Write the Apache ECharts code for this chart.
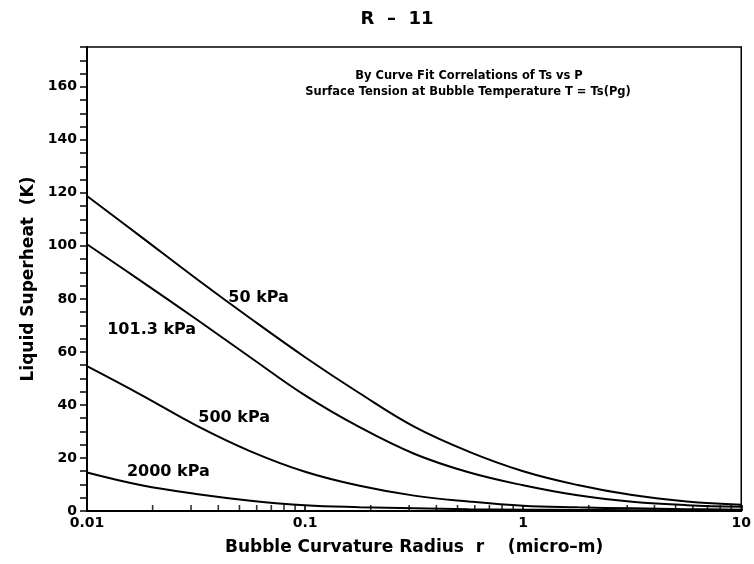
<!DOCTYPE html>
<html>
<head>
<meta charset="utf-8">
<script src="https://cdn.jsdelivr.net/npm/echarts@6/dist/echarts.min.js"></script>
<style>html,body{margin:0;padding:0;background:#fff}#c{width:754px;height:564px}</style>
</head>
<body>
<div id="c"></div>
<script>
// Data (x: bubble radius in micro-m, y: superheat in K)
const radius   = [0.01, 0.01778, 0.03162, 0.05623, 0.1, 0.1778, 0.3162, 0.5623, 1, 1.778, 3.162, 5.623, 10];
const p50_y    = [118.8, 103.3, 87.7, 72.6, 58.0, 44.4, 31.8, 22.4, 15.0, 9.8, 6.0, 3.6, 2.4];
const p101_y   = [100.6, 86.6, 72.4, 57.9, 43.6, 31.6, 21.6, 14.6, 9.7, 5.9, 3.5, 2.2, 1.6];
const p500_y   = [54.6, 43.7, 32.3, 22.5, 14.8, 9.5, 5.8, 3.6, 2.0, 1.4, 1.0, 0.7, 0.5];
const p2000_y  = [14.5, 9.7, 6.4, 3.9, 2.2, 1.45, 1.0, 0.7, 0.5, 0.4, 0.3, 0.25, 0.2];
const seriesNames = ['50 kPa', '101.3 kPa', '500 kPa', '2000 kPa'];
const xTickLabels = ['0.01', '0.1', '1', '10'];
const xMinorTicks = [0.02, 0.03, 0.04, 0.05, 0.06, 0.07, 0.08, 0.09,
                     0.2, 0.3, 0.4, 0.5, 0.6, 0.7, 0.8, 0.9,
                     2, 3, 4, 5, 6, 7, 8, 9];
const yTickLabels = [0, 20, 40, 60, 80, 100, 120, 140, 160];

const ys = [p50_y, p101_y, p500_y, p2000_y];
// label anchors in data coordinates
const labelAnchor = [[0.0612, 80.4], [0.0198, 68.3], [0.0473, 35], [0.0236, 14.6]];

const FONT = 'DejaVu Sans';
const chart = echarts.init(document.getElementById('c'), null, {renderer: 'canvas'});

const series = seriesNames.map((n, i) => ({
  name: n,
  type: 'line',
  data: radius.map((x, j) => [x, ys[i][j]]),
  showSymbol: false,
  smooth: 0.4,
  lineStyle: {color: '#000', width: 2},
  z: 3,
  markPoint: {
    symbol: 'circle', symbolSize: 0,
    label: {show: true, formatter: n, color: '#000', fontFamily: FONT, fontSize: 16, fontWeight: 'bold', position: 'inside'},
    data: [{coord: labelAnchor[i]}]
  }
}));

// minor ticks of the log axis (2..9 in each decade), drawn upward from the x axis
series.push({
  type: 'scatter',
  data: xMinorTicks.map(x => [x, 0]),
  symbol: 'rect',
  symbolSize: [1.6, 6],
  symbolOffset: [0, -3],
  itemStyle: {color: '#000'},
  silent: true,
  clip: false,
  z: 4
});

chart.setOption({
  animation: false,
  backgroundColor: '#fff',
  title: [
    {text: 'R  –  11', left: 392, top: 5, textAlign: 'center',
     textStyle: {fontFamily: FONT, fontSize: 18, fontWeight: 'bold', color: '#000'}},
    {text: 'By Curve Fit Correlations of Ts vs P', left: 464, top: 65, textAlign: 'center',
     textStyle: {fontFamily: FONT, fontSize: 11.5, fontWeight: 'bold', color: '#000'}},
    {text: 'Surface Tension at Bubble Temperature T = Ts(Pg)', left: 463, top: 81, textAlign: 'center',
     textStyle: {fontFamily: FONT, fontSize: 11.5, fontWeight: 'bold', color: '#000'}}
  ],
  grid: {left: 87, right: 11, top: 47, bottom: 53, show: true, borderColor: '#000', borderWidth: 1.5, backgroundColor: 'transparent'},
  xAxis: {
    type: 'log', logBase: 10, min: 0.01, max: 10,
    name: 'Bubble Curvature Radius  r    (micro–m)', nameLocation: 'middle', nameGap: 28,
    nameTextStyle: {fontFamily: FONT, fontSize: 17, fontWeight: 'bold', color: '#000'},
    axisLine: {lineStyle: {color: '#000', width: 2}},
    axisTick: {inside: true, length: 6, lineStyle: {color: '#000', width: 1.6}},
    axisLabel: {fontFamily: FONT, fontSize: 14, fontWeight: 'bold', color: '#000', margin: 5,
      formatter: v => { const s = xTickLabels.find(t => Math.abs(parseFloat(t) - v) / v < 1e-6); return s || ''; }},
    splitLine: {show: false}
  },
  yAxis: {
    type: 'value', min: 0, max: 175, interval: 5,
    name: 'Liquid Superheat  (K)', nameLocation: 'middle', nameGap: 50,
    nameTextStyle: {fontFamily: FONT, fontSize: 17, fontWeight: 'bold', color: '#000'},
    axisLine: {show: true, lineStyle: {color: '#000', width: 2}},
    axisTick: {show: true, inside: false, length: 7, lineStyle: {color: '#000', width: 1.5}},
    axisLabel: {fontFamily: FONT, fontSize: 14, fontWeight: 'bold', color: '#000', margin: 10,
      formatter: v => (yTickLabels.indexOf(v) >= 0 ? String(v) : '')},
    splitLine: {show: false}
  },
  series: series
});
</script>
</body>
</html>
